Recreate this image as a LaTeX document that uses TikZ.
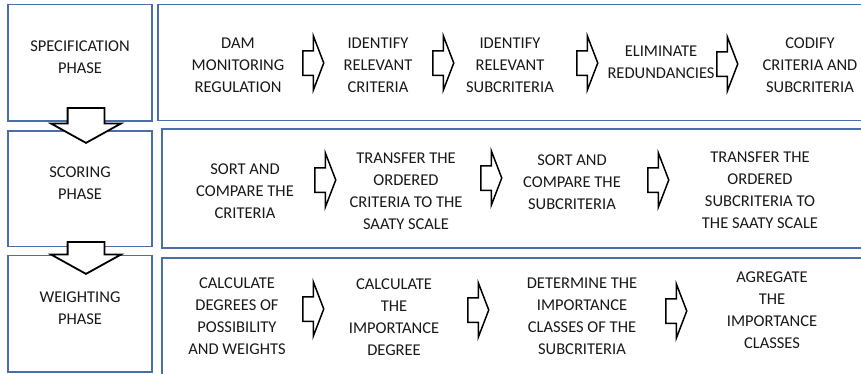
\documentclass[tikz,border=0pt]{standalone}
\usepackage{fontspec}
\setmainfont{Carlito}
\usepackage{tikz}
\usetikzlibrary{shapes.arrows}
\definecolor{frameblue}{RGB}{74,110,170}

\begin{document}
\begin{tikzpicture}[
  x=1pt, y=-1pt,
  frame/.style={draw=frameblue, line width=1.2pt, fill=white, inner sep=0pt, outer sep=0pt},
  steptext/.style={align=center, font=\fontsize{16.5}{22}\selectfont, text=black!90, inner sep=0pt},
  rarrow/.style={single arrow, draw=black, line width=1.5pt, fill=white, inner sep=0pt,
    inner ysep=11.5pt, minimum height=21pt, single arrow head extend=14.5pt,
    single arrow tip angle=138, anchor=tail},
  darrow/.style={single arrow, draw=black, line width=1.8pt, fill=white, inner sep=0pt,
    inner ysep=17.5pt, single arrow head extend=16.5pt, single arrow tip angle=122,
    rotate=-90, anchor=tail}
]
\clip (0,0) rectangle (861,373);

% phase boxes and row boxes
\node[frame, minimum width=144pt, minimum height=116.5pt] (specbox) at (80,62.75) {};
\node[frame, minimum width=144pt, minimum height=115.5pt] (scorbox) at (80,188.75) {};
\node[frame, minimum width=144pt, minimum height=116.5pt] (weigbox) at (80,313.75) {};
\node[frame, minimum width=722pt, minimum height=115.5pt] (specrow) at (519,62.5) {};
\node[frame, minimum width=718pt, minimum height=119pt] (scorrow) at (521,188.5) {};
\node[frame, minimum width=718pt, minimum height=127pt] (weigrow) at (521,321.5) {};

% phase names
\node[steptext] (spec) at (80,57) {SPECIFICATION\\PHASE};
\node[steptext] (scor) at (80,183) {SCORING\\PHASE};
\node[steptext] (weig) at (80,308) {WEIGHTING\\PHASE};

% specification phase
\node[steptext] (dam) at (238,65) {DAM\\MONITORING\\REGULATION};
\node[steptext] (idcrit) at (378,65) {IDENTIFY\\RELEVANT\\CRITERIA};
\node[steptext] (idsub) at (510,65) {IDENTIFY\\RELEVANT\\SUBCRITERIA};
\node[steptext] (elim) at (661,62) {ELIMINATE\\REDUNDANCIES};
\node[steptext] (codify) at (810,65) {CODIFY\\CRITERIA AND\\SUBCRITERIA};

\node[rarrow] (s1) at (302,63) {};
\node[rarrow] (s2) at (432,63) {};
\node[rarrow] (s3) at (576,63) {};
\node[rarrow] (s4) at (716,64) {};

% scoring phase
\node[steptext] (sortcrit) at (245,191) {SORT AND\\COMPARE THE\\CRITERIA};
\node[steptext] (transcrit) at (406,191) {TRANSFER THE\\ORDERED\\CRITERIA TO THE\\SAATY SCALE};
\node[steptext] (sortsub) at (572,182) {SORT AND\\COMPARE THE\\SUBCRITERIA};
\node[steptext] (transsub) at (760,190) {TRANSFER THE\\ORDERED\\SUBCRITERIA TO\\THE SAATY SCALE};

\node[rarrow] (c1) at (314,180) {};
\node[rarrow] (c2) at (480,178) {};
\node[rarrow] (c3) at (647,180) {};

% weighting phase
\node[steptext] (calcdeg) at (237,316) {CALCULATE\\DEGREES OF\\POSSIBILITY\\AND WEIGHTS};
\node[steptext] (calcimp) at (394,317) {CALCULATE\\THE\\IMPORTANCE\\DEGREE};
\node[steptext] (detcls) at (582,316) {DETERMINE THE\\IMPORTANCE\\CLASSES OF THE\\SUBCRITERIA};
\node[steptext] (aggcls) at (772,310) {AGREGATE\\THE\\IMPORTANCE\\CLASSES};

\node[rarrow] (w1) at (302,309) {};
\node[rarrow] (w2) at (467,310) {};
\node[rarrow] (w3) at (665,311) {};

% phase to phase
\node[darrow, minimum height=35pt] (d1) at (86,107) {};
\node[darrow, minimum height=32pt] (d2) at (86,241) {};

\end{tikzpicture}
\end{document}
